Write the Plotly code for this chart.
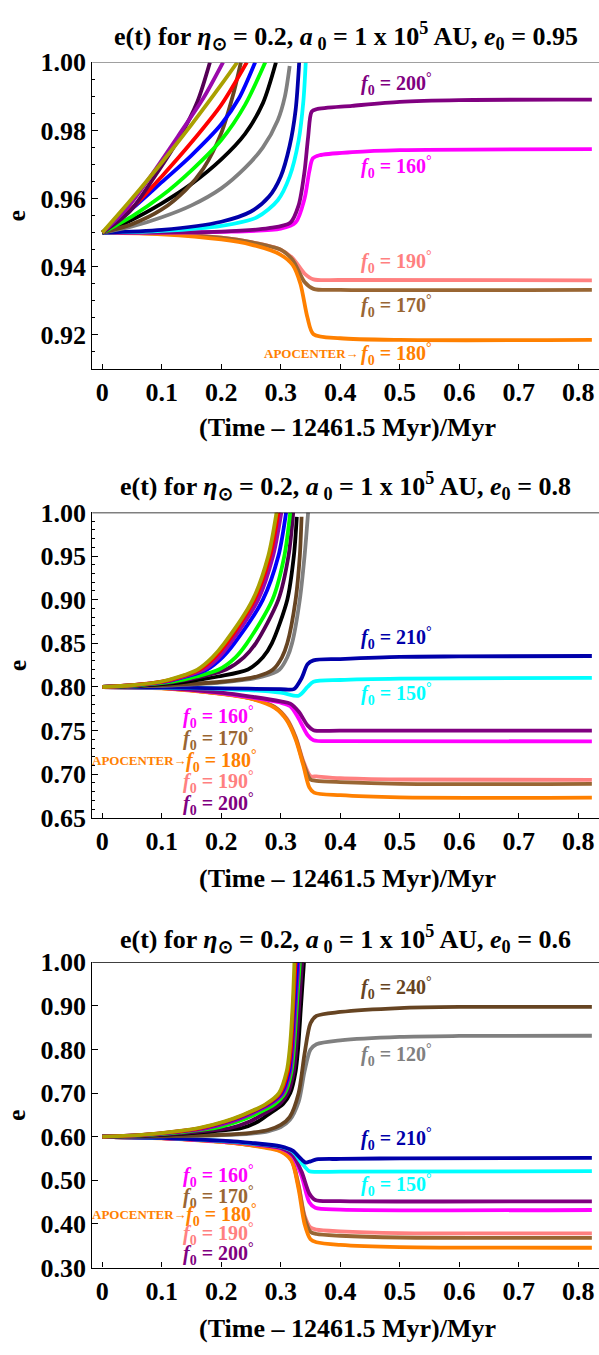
import plotly.graph_objects as go

# ---------------- data: (t, e) samples ----------------
# Panel 1 : e0 = 0.95
P1_DARKPURPLE = [(0,0.95),(0.045,0.956),(0.09,0.967),(0.13,0.978),(0.16,0.9885),(0.181,1.0)]
P1_VIOLET = [(0,0.95),(0.04,0.9568),(0.085,0.9675),(0.128,0.9785),(0.17,0.9895),(0.203,1.0)]
P1_OLIVE = [(0,0.95),(0.05,0.96),(0.1,0.9706),(0.15,0.9817),(0.2,0.9934),(0.227,1.0)]
P1_RED = [(0,0.95),(0.05,0.9572),(0.1,0.9665),(0.15,0.9765),(0.2,0.9875),(0.243,1.0)]
P1_BLUE = [(0,0.95),(0.05,0.957),(0.1,0.9648),(0.15,0.9727),(0.2,0.9818),(0.23,0.9895),(0.257,1.0)]
P1_GREEN = [(0,0.95),(0.05,0.9548),(0.1,0.9608),(0.15,0.9683),(0.2,0.9772),(0.24,0.9875),(0.274,1.0)]
P1_BLACK = [(0,0.95),(0.05,0.9538),(0.1,0.9586),(0.15,0.9643),(0.2,0.9715),(0.24,0.979),(0.27,0.988),(0.292,1.0)]
P1_DARKBROWN = [(0,0.95),(0.05,0.9525),(0.1,0.9568),(0.14,0.9625),(0.17,0.9688),(0.2,0.9792),(0.22,0.9905),(0.233,1.0)]
P1_GRAY = [(0,0.95),(0.05,0.9518),(0.1,0.9545),(0.15,0.958),(0.2,0.963),(0.24,0.969),(0.27,0.975),(0.295,0.983),(0.307,0.99),(0.315,0.9989)]
P1_NAVY = [(0,0.95),(0.1,0.9508),(0.2,0.9532),(0.25,0.9562),(0.28,0.9605),(0.3,0.9665),(0.315,0.9755),(0.325,0.986),(0.331,1.0)]
P1_CYAN = [(0,0.95),(0.1,0.9505),(0.2,0.952),(0.26,0.9545),(0.295,0.9595),(0.315,0.9665),(0.33,0.977),(0.338,0.9885),(0.342,1.0)]
P1_PURPLE = [(0,0.95),(0.2,0.9503),(0.28,0.9513),(0.316,0.9529),(0.33,0.958),(0.34,0.968),(0.346,0.978),(0.352,0.9855),(0.36,0.9862),(0.42,0.9872),(0.5,0.9884),(0.6,0.9889),(0.823,0.989)]
P1_MAGENTA = [(0,0.95),(0.2,0.9502),(0.3,0.9512),(0.325,0.953),(0.34,0.96),(0.348,0.968),(0.354,0.9718),(0.365,0.9727),(0.42,0.9736),(0.5,0.9742),(0.823,0.9745)]
P1_PINK = [(0,0.95),(0.1,0.9497),(0.2,0.9485),(0.25,0.9472),(0.3,0.945),(0.32,0.9425),(0.34,0.938),(0.355,0.9363),(0.4,0.9361),(0.823,0.936)]
P1_BROWN = [(0,0.95),(0.1,0.9497),(0.2,0.9485),(0.25,0.9472),(0.3,0.945),(0.32,0.942),(0.34,0.9355),(0.355,0.9335),(0.4,0.9332),(0.823,0.9332)]
P1_ORANGE = [(0,0.95),(0.1,0.9495),(0.2,0.948),(0.25,0.9465),(0.3,0.9435),(0.32,0.9405),(0.333,0.935),(0.345,0.925),(0.355,0.9202),(0.4,0.919),(0.5,0.9185),(0.823,0.9185)]

# Panel 2 : e0 = 0.8
P2_OLIVE = [(0,0.8),(0.05,0.802),(0.098,0.806),(0.13,0.812),(0.16,0.82),(0.185,0.834),(0.205,0.85),(0.253,0.9),(0.279,0.95),(0.293,1.0)]
P2_RED = [(0,0.8),(0.05,0.802),(0.1,0.806),(0.133,0.812),(0.164,0.82),(0.189,0.834),(0.209,0.85),(0.256,0.9),(0.282,0.95),(0.296,1.0)]
P2_VIOLET = [(0,0.8),(0.052,0.802),(0.104,0.806),(0.138,0.812),(0.171,0.82),(0.196,0.834),(0.215,0.85),(0.262,0.9),(0.287,0.95),(0.301,1.0)]
P2_BLUE = [(0,0.8),(0.054,0.802),(0.106,0.806),(0.141,0.812),(0.176,0.82),(0.202,0.834),(0.222,0.85),(0.27,0.9),(0.296,0.95),(0.309,1.0)]
P2_GREEN = [(0,0.8),(0.06,0.802),(0.118,0.806),(0.158,0.812),(0.196,0.82),(0.224,0.834),(0.243,0.85),(0.286,0.9),(0.306,0.95),(0.316,1.0)]
P2_DARKPURPLE = [(0,0.8),(0.065,0.802),(0.125,0.806),(0.168,0.812),(0.208,0.82),(0.238,0.834),(0.258,0.85),(0.296,0.9),(0.313,0.95),(0.321,1.0)]
P2_BLACK = [(0,0.8),(0.07,0.802),(0.14,0.806),(0.195,0.812),(0.245,0.82),(0.27,0.834),(0.285,0.85),(0.311,0.9),(0.322,0.95),(0.327,0.995)]
P2_DARKBROWN = [(0,0.8),(0.1,0.802),(0.2,0.806),(0.26,0.812),(0.287,0.82),(0.302,0.834),(0.311,0.85),(0.325,0.9),(0.332,0.95),(0.335,0.995)]
P2_GRAY = [(0,0.8),(0.12,0.802),(0.21,0.806),(0.27,0.812),(0.298,0.82),(0.311,0.834),(0.319,0.85),(0.332,0.9),(0.34,0.95),(0.346,1.0)]
P2_NAVY = [(0,0.8),(0.1,0.7995),(0.2,0.7985),(0.3,0.7975),(0.322,0.7975),(0.335,0.81),(0.345,0.826),(0.355,0.8305),(0.4,0.832),(0.5,0.8345),(0.6,0.835),(0.823,0.8355)]
P2_CYAN = [(0,0.8),(0.1,0.7993),(0.2,0.798),(0.3,0.7935),(0.33,0.79),(0.345,0.8),(0.355,0.806),(0.4,0.808),(0.5,0.8095),(0.823,0.8105)]
P2_PURPLE = [(0,0.8),(0.1,0.799),(0.2,0.7935),(0.25,0.789),(0.3,0.7835),(0.316,0.781),(0.33,0.772),(0.345,0.756),(0.355,0.7505),(0.4,0.75),(0.823,0.75)]
P2_MAGENTA = [(0,0.8),(0.1,0.799),(0.2,0.793),(0.25,0.788),(0.3,0.782),(0.316,0.778),(0.33,0.764),(0.345,0.745),(0.355,0.739),(0.4,0.738),(0.823,0.7377)]
P2_PINK = [(0,0.8),(0.1,0.7987),(0.2,0.7925),(0.25,0.787),(0.29,0.777),(0.31,0.764),(0.325,0.743),(0.338,0.715),(0.35,0.698),(0.36,0.6975),(0.4,0.6955),(0.5,0.694),(0.823,0.6935)]
P2_BROWN = [(0,0.8),(0.1,0.7987),(0.2,0.7925),(0.25,0.787),(0.29,0.777),(0.31,0.763),(0.325,0.742),(0.338,0.713),(0.35,0.694),(0.36,0.6925),(0.4,0.691),(0.5,0.689),(0.823,0.689)]
P2_ORANGE = [(0,0.8),(0.1,0.7985),(0.2,0.792),(0.25,0.7865),(0.29,0.776),(0.31,0.762),(0.325,0.74),(0.338,0.71),(0.348,0.685),(0.356,0.679),(0.4,0.676),(0.5,0.6735),(0.823,0.6733)]

# Panel 3 : e0 = 0.6
P3_OLIVE = [(0,0.6),(0.07,0.605),(0.11,0.61),(0.162,0.62),(0.205,0.635),(0.236,0.65),(0.275,0.675),(0.297,0.7),(0.31,0.75),(0.315,0.8),(0.32,0.9),(0.323,1.0)]
P3_RED = [(0,0.6),(0.072,0.605),(0.112,0.61),(0.165,0.62),(0.208,0.635),(0.238,0.65),(0.277,0.675),(0.299,0.7),(0.312,0.75),(0.317,0.8),(0.321,0.9),(0.325,1.0)]
P3_BLUE = [(0,0.6),(0.074,0.605),(0.115,0.61),(0.168,0.62),(0.21,0.635),(0.24,0.65),(0.279,0.675),(0.301,0.7),(0.314,0.75),(0.318,0.8),(0.323,0.9),(0.328,1.0)]
P3_VIOLET = [(0,0.6),(0.078,0.605),(0.12,0.61),(0.176,0.62),(0.218,0.635),(0.246,0.65),(0.283,0.675),(0.304,0.7),(0.316,0.75),(0.32,0.8),(0.325,0.9),(0.33,1.0)]
P3_GREEN = [(0,0.6),(0.085,0.605),(0.13,0.61),(0.19,0.62),(0.228,0.635),(0.255,0.65),(0.29,0.675),(0.307,0.7),(0.318,0.75),(0.322,0.8),(0.327,0.9),(0.332,1.0)]
P3_DARKPURPLE = [(0,0.6),(0.1,0.605),(0.15,0.61),(0.215,0.62),(0.248,0.635),(0.268,0.65),(0.298,0.675),(0.312,0.7),(0.322,0.75),(0.326,0.8),(0.331,0.9),(0.336,1.0)]
P3_BLACK = [(0,0.6),(0.11,0.605),(0.165,0.61),(0.235,0.62),(0.262,0.635),(0.278,0.65),(0.304,0.675),(0.316,0.7),(0.325,0.75),(0.329,0.8),(0.334,0.9),(0.339,1.0)]
P3_DARKBROWN = [(0,0.6),(0.1,0.6015),(0.2,0.6045),(0.25,0.609),(0.28,0.616),(0.3,0.627),(0.315,0.645),(0.33,0.7),(0.34,0.79),(0.35,0.86),(0.36,0.877),(0.4,0.886),(0.5,0.895),(0.6,0.8975),(0.823,0.8975)]
P3_GRAY = [(0,0.6),(0.1,0.601),(0.2,0.6035),(0.25,0.607),(0.28,0.613),(0.3,0.622),(0.315,0.638),(0.33,0.68),(0.34,0.75),(0.35,0.8),(0.36,0.812),(0.4,0.821),(0.5,0.829),(0.6,0.831),(0.823,0.8315)]
P3_NAVY = [(0,0.6),(0.1,0.5975),(0.2,0.591),(0.25,0.586),(0.3,0.578),(0.32,0.568),(0.335,0.548),(0.342,0.5405),(0.35,0.5435),(0.36,0.548),(0.4,0.549),(0.5,0.5505),(0.823,0.5515)]
P3_CYAN = [(0,0.6),(0.1,0.5973),(0.2,0.5905),(0.25,0.585),(0.3,0.577),(0.32,0.566),(0.335,0.54),(0.348,0.521),(0.36,0.5195),(0.4,0.52),(0.823,0.521)]
P3_PURPLE = [(0,0.6),(0.1,0.597),(0.2,0.59),(0.25,0.584),(0.3,0.574),(0.32,0.558),(0.335,0.52),(0.348,0.47),(0.358,0.455),(0.4,0.4525),(0.823,0.452)]
P3_MAGENTA = [(0,0.6),(0.1,0.597),(0.2,0.5895),(0.25,0.5835),(0.3,0.573),(0.32,0.556),(0.335,0.51),(0.348,0.45),(0.358,0.437),(0.4,0.433),(0.823,0.432)]
P3_PINK = [(0,0.6),(0.1,0.5967),(0.2,0.5885),(0.25,0.581),(0.3,0.568),(0.318,0.548),(0.33,0.49),(0.34,0.42),(0.35,0.392),(0.36,0.387),(0.4,0.383),(0.5,0.379),(0.823,0.3785)]
P3_BROWN = [(0,0.6),(0.1,0.5967),(0.2,0.5885),(0.25,0.581),(0.3,0.568),(0.318,0.547),(0.33,0.487),(0.34,0.415),(0.35,0.382),(0.36,0.377),(0.4,0.373),(0.5,0.369),(0.823,0.368)]
P3_ORANGE = [(0,0.6),(0.1,0.5965),(0.2,0.588),(0.25,0.58),(0.3,0.566),(0.318,0.545),(0.33,0.48),(0.34,0.4),(0.35,0.365),(0.36,0.358),(0.4,0.352),(0.5,0.347),(0.823,0.3455)]

PANEL_E0 = ["0.95", "0.8", "0.6"]
X_TICKS = [0, 0.1, 0.2, 0.3, 0.4, 0.5, 0.6, 0.7, 0.8]
X_TICK_TEXT = ["0", "0.1", "0.2", "0.3", "0.4", "0.5", "0.6", "0.7", "0.8"]

COLORS = {
    "darkpurple": "#550055", "violet": "#9A0AAA", "olive": "#AAA000",
    "darkbrown": "#664422", "red": "#FF0000", "blue": "#0000FF",
    "green": "#00FF00", "black": "#000000", "gray": "#808080",
    "navy": "#0000AA", "cyan": "#00FFFF", "purple": "#800080",
    "magenta": "#FF00FF", "pink": "#FF8080", "brown": "#996633",
    "orange": "#FF8000",
}

PANEL1 = [("pink", P1_PINK), ("brown", P1_BROWN), ("orange", P1_ORANGE),
          ("magenta", P1_MAGENTA), ("purple", P1_PURPLE), ("cyan", P1_CYAN),
          ("navy", P1_NAVY), ("gray", P1_GRAY), ("black", P1_BLACK),
          ("darkbrown", P1_DARKBROWN), ("green", P1_GREEN), ("blue", P1_BLUE),
          ("red", P1_RED), ("darkpurple", P1_DARKPURPLE), ("violet", P1_VIOLET),
          ("olive", P1_OLIVE)]
PANEL2 = [("pink", P2_PINK), ("brown", P2_BROWN), ("orange", P2_ORANGE),
          ("magenta", P2_MAGENTA), ("purple", P2_PURPLE), ("cyan", P2_CYAN),
          ("navy", P2_NAVY), ("gray", P2_GRAY), ("darkbrown", P2_DARKBROWN),
          ("black", P2_BLACK), ("darkpurple", P2_DARKPURPLE), ("green", P2_GREEN),
          ("blue", P2_BLUE), ("violet", P2_VIOLET), ("red", P2_RED), ("olive", P2_OLIVE)]
PANEL3 = [("pink", P3_PINK), ("brown", P3_BROWN), ("orange", P3_ORANGE),
          ("magenta", P3_MAGENTA), ("purple", P3_PURPLE), ("cyan", P3_CYAN),
          ("navy", P3_NAVY), ("gray", P3_GRAY), ("darkbrown", P3_DARKBROWN),
          ("black", P3_BLACK), ("darkpurple", P3_DARKPURPLE), ("green", P3_GREEN),
          ("violet", P3_VIOLET), ("blue", P3_BLUE), ("red", P3_RED), ("olive", P3_OLIVE)]

# curve labels: (angle text, colour key, t, e)
LABELS1 = [("200", "purple", 0.495, 0.9935), ("160", "magenta", 0.495, 0.9692),
           ("190", "pink", 0.495, 0.9415), ("170", "brown", 0.495, 0.9286),
           ("180", "orange", 0.495, 0.9145)]
LABELS2 = [("210", "navy", 0.495, 0.8556), ("150", "cyan", 0.495, 0.792),
           ("160", "magenta", 0.195, 0.766), ("170", "brown", 0.195, 0.7406),
           ("180", "orange", 0.2, 0.7152), ("190", "pink", 0.195, 0.691),
           ("200", "purple", 0.195, 0.6663)]
LABELS3 = [("240", "darkbrown", 0.495, 0.9417), ("120", "gray", 0.495, 0.7884),
           ("210", "navy", 0.495, 0.594), ("150", "cyan", 0.495, 0.489),
           ("160", "magenta", 0.195, 0.511), ("170", "brown", 0.195, 0.4615),
           ("180", "orange", 0.2, 0.4211), ("190", "pink", 0.195, 0.377),
           ("200", "purple", 0.195, 0.3314)]
APO_POS = [(0.351, 0.9145), (0.062, 0.7152), (0.062, 0.4211)]

# ---------------- layout geometry (screen pixels) ----------------
W, H = 599, 1355
SERIF = "Liberation Serif, Times New Roman, serif"
AXIS_X = 92.3
X_DOMAIN = [AXIS_X / W, 1.0]
X_RANGE = [-0.0168, 0.835]
PANEL_PIX = [(49.3, 362.7), (509.3, 821.5), (969.0, 1281.0)]
Y_RANGES = [[0.91, 1.0], [0.65, 1.0], [0.3, 1.0]]
Y_DTICK = [0.02, 0.05, 0.1]
Y_MINOR = [0.005, 0.01, None]
TITLE_Y = [22, 482, 945]
XTITLE_Y = [423, 883, 1343]
TOPLINE = ["#808080", "#000000", "#000000"]


def px(x):
    return x / W


def py(y):
    return 1 - y / H


fig = go.Figure()
panels = [PANEL1, PANEL2, PANEL3]
labels = [LABELS1, LABELS2, LABELS3]
annotations = []
shapes = []
for i, curves in enumerate(panels):
    xa = "x" if i == 0 else f"x{i+1}"
    ya = "y" if i == 0 else f"y{i+1}"
    for key, pts in curves:
        fig.add_trace(go.Scatter(
            x=[p[0] for p in pts], y=[p[1] for p in pts], mode="lines",
            line=dict(color=COLORS[key], width=3.8, shape="spline", smoothing=0.8),
            xaxis=xa, yaxis=ya, showlegend=False, hoverinfo="skip"))
    top, bot = PANEL_PIX[i]
    ydom = [py(bot), py(top)]
    axis_common = dict(showgrid=False, zeroline=False, showline=True,
                       linecolor="black", linewidth=1.3, ticks="inside",
                       tickcolor="black", tickwidth=1.2,
                       tickfont=dict(family=SERIF, size=26, color="black", weight="bold"))
    xkey = "xaxis" if i == 0 else f"xaxis{i+1}"
    ykey = "yaxis" if i == 0 else f"yaxis{i+1}"
    fig.layout[xkey] = dict(domain=X_DOMAIN, range=X_RANGE, anchor=ya,
                            tickvals=X_TICKS, ticktext=X_TICK_TEXT, ticklen=5,
                            **axis_common)
    ydict = dict(domain=ydom, range=Y_RANGES[i], anchor=xa, dtick=Y_DTICK[i],
                 tick0=0, tickformat=".2f", ticklen=6, **axis_common)
    if Y_MINOR[i]:
        ydict["minor"] = dict(dtick=Y_MINOR[i], ticks="inside", ticklen=3,
                              tickcolor="black", tickwidth=1)
    fig.layout[ykey] = ydict
    shapes.append(dict(type="line", xref="paper", yref=ya, x0=X_DOMAIN[0], x1=1.0,
                       y0=1.0, y1=1.0, line=dict(color=TOPLINE[i], width=1.5)))
    annotations.append(dict(
        text=("e(t) for <i>η</i><sub>⊙</sub> = 0.2, <i>a</i><sub> 0</sub> = 1 x 10<sup>5</sup> AU, "
              f"<i>e</i><sub>0</sub> = {PANEL_E0[i]}"),
        xref="paper", yref="paper", x=px((AXIS_X + W) / 2), y=py(TITLE_Y[i]),
        xanchor="center", yanchor="middle", showarrow=False,
        font=dict(family=SERIF, size=26, color="black", weight="bold")))
    annotations.append(dict(
        text="(Time – 12461.5 Myr)/Myr", xref="paper", yref="paper",
        x=px(347), y=py(XTITLE_Y[i]), xanchor="center", yanchor="middle",
        showarrow=False, font=dict(family=SERIF, size=26, color="black", weight="bold")))
    annotations.append(dict(
        text="e", xref="paper", yref="paper", x=px(17), y=py((top + bot) / 2),
        xanchor="center", yanchor="middle", textangle=-90, showarrow=False,
        font=dict(family=SERIF, size=26, color="black", weight="bold")))
    for val, ckey, t, e in labels[i]:
        annotations.append(dict(
            text=f"<i>f</i><sub>0</sub> = {val}<sup>°</sup>", xref=xa, yref=ya,
            x=t, y=e, xanchor="center", yanchor="middle", showarrow=False,
            font=dict(family=SERIF, size=20, color=COLORS[ckey], weight="bold")))
    at, ae = APO_POS[i]
    annotations.append(dict(
        text="APOCENTER→", xref=xa, yref=ya, x=at, y=ae,
        xanchor="center", yanchor="middle", showarrow=False,
        font=dict(family=SERIF, size=13, color=COLORS["orange"], weight="bold")))

fig.update_layout(width=W, height=H, margin=dict(l=0, r=0, t=0, b=0),
                  paper_bgcolor="white", plot_bgcolor="white",
                  annotations=annotations, shapes=shapes, showlegend=False)
fig.write_html("out.html", config={"displayModeBar": False},
               post_script="document.body.style.margin='0';document.body.style.overflow='hidden';")
